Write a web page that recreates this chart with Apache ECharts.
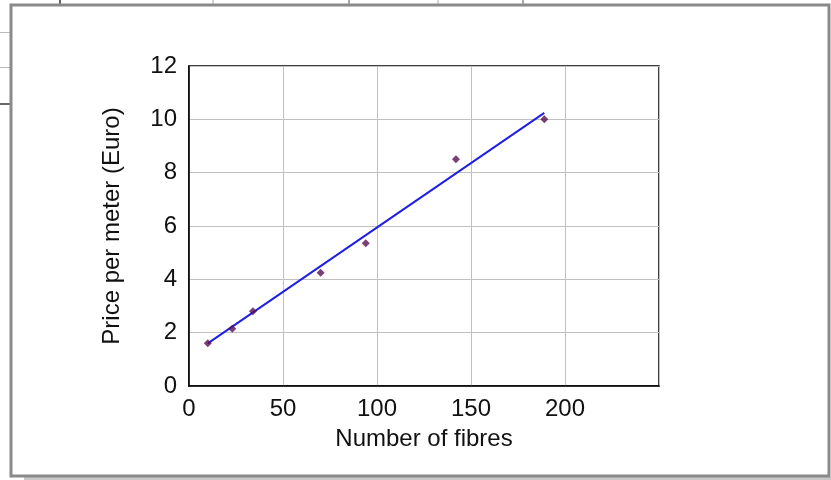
<!DOCTYPE html>
<html>
<head>
<meta charset="utf-8">
<script src="https://cdn.jsdelivr.net/npm/echarts@6/dist/echarts.min.js"></script>
<style>
  html, body { margin: 0; padding: 0; background: #fff; }
  #chart { width: 831px; height: 480px; }
</style>
</head>
<body>
<div id="chart"></div>
<script>
// Measured cable prices against fibre count
const fibres = [10, 23, 34, 70, 94, 142, 189];
const pricePerMeter = [1.6, 2.15, 2.8, 4.25, 5.35, 8.5, 10];
// Linear trend line end points
const trendX = [10, 189];
const trendY = [1.6, 10.24];
const xTicks = [0, 50, 100, 150, 200];

const points = fibres.map((f, i) => [f, pricePerMeter[i]]);
const trend = trendX.map((f, i) => [f, trendY[i]]);

const chart = echarts.init(document.getElementById('chart'), null, { renderer: 'canvas' });
const font = 'Liberation Sans, Arial, sans-serif';
const textColor = '#111';

chart.setOption({
  animation: false,
  backgroundColor: '#fff',
  graphic: [
    // spreadsheet cell lines peeking around the embedded chart
    { type: 'line', shape: { x1: 60, y1: 0, x2: 60, y2: 5 }, style: { stroke: '#333', lineWidth: 1.5 } },
    { type: 'line', shape: { x1: 213, y1: 0, x2: 213, y2: 5 }, style: { stroke: '#aaa', lineWidth: 1 } },
    { type: 'line', shape: { x1: 349, y1: 0, x2: 349, y2: 5 }, style: { stroke: '#555', lineWidth: 1 } },
    { type: 'line', shape: { x1: 438, y1: 0, x2: 438, y2: 5 }, style: { stroke: '#aaa', lineWidth: 1 } },
    { type: 'line', shape: { x1: 523, y1: 0, x2: 523, y2: 5 }, style: { stroke: '#555', lineWidth: 1 } },
    { type: 'line', shape: { x1: 0, y1: 32.5, x2: 10, y2: 32.5 }, style: { stroke: '#bbb', lineWidth: 1 } },
    { type: 'line', shape: { x1: 0, y1: 67.5, x2: 10, y2: 67.5 }, style: { stroke: '#bbb', lineWidth: 1 } },
    { type: 'line', shape: { x1: 0, y1: 104, x2: 10, y2: 104 }, style: { stroke: '#333', lineWidth: 1.5 } },
    // chart frame shadow and border
    { type: 'rect', shape: { x: 24, y: 477, width: 807, height: 3 }, style: { fill: '#c8c8c8' } },
    { type: 'rect', shape: { x: 11, y: 5, width: 818, height: 471 },
      style: { fill: 'none', stroke: '#8a8a8a', lineWidth: 3 } }
  ],
  grid: { left: 189, right: 172, top: 66, bottom: 94, show: true, borderColor: '#000', borderWidth: 1.5 },
  xAxis: {
    type: 'value', min: 0, max: 250, interval: 50,
    name: 'Number of fibres', nameLocation: 'middle', nameGap: 41,
    nameTextStyle: { fontFamily: font, fontSize: 24, color: textColor },
    axisLine: { show: true, lineStyle: { color: '#000', width: 1.5 } },
    axisTick: { show: false },
    axisLabel: {
      fontFamily: font, fontSize: 24, color: textColor, margin: 11,
      formatter: v => (xTicks.indexOf(v) >= 0 ? String(v) : '')
    },
    splitLine: { show: true, lineStyle: { color: '#c0c0c0', width: 1 } }
  },
  yAxis: {
    type: 'value', min: 0, max: 12, interval: 2,
    name: 'Price per meter (Euro)', nameLocation: 'middle', nameGap: 65,
    nameTextStyle: { fontFamily: font, fontSize: 24, color: textColor },
    axisLine: { show: true, lineStyle: { color: '#000', width: 1.5 } },
    axisTick: { show: false },
    axisLabel: { fontFamily: font, fontSize: 24, color: textColor, margin: 12 },
    splitLine: { show: true, lineStyle: { color: '#c0c0c0', width: 1 } }
  },
  series: [
    {
      type: 'line', data: trend, showSymbol: false, symbol: 'none',
      lineStyle: { color: '#1f1fe6', width: 2 }, z: 3
    },
    {
      type: 'scatter', data: points, symbol: 'diamond', symbolSize: 8,
      itemStyle: { color: '#5a0f55' }, z: 4
    }
  ]
});
</script>
</body>
</html>
